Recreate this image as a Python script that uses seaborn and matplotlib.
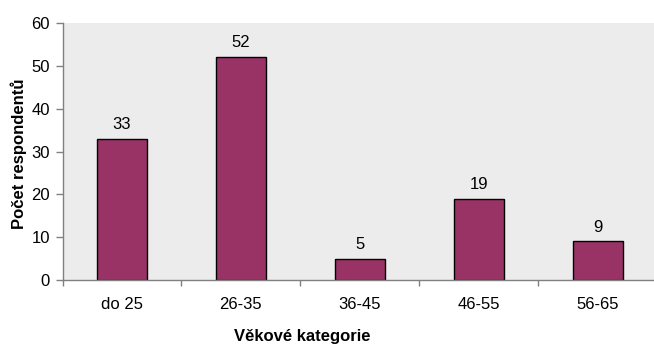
import matplotlib
matplotlib.use("Agg")
import matplotlib.pyplot as plt
from matplotlib.ticker import FixedLocator
import seaborn as sns
import pandas as pd

categories = ["do 25", "26-35", "36-45", "46-55", "56-65"]
counts = [33, 52, 5, 19, 9]
y_ticks = [0, 10, 20, 30, 40, 50, 60]

sns.set_theme(style="white")
plt.rcParams["font.family"] = ["Liberation Sans", "DejaVu Sans"]

df = pd.DataFrame({"kategorie": categories, "pocet": counts})

W, H = 654, 345
left, bottom, right, top = 62.6, 280, 657, 23
fig = plt.figure(figsize=(W / 100, H / 100), dpi=100)
ax = fig.add_axes([left / W, (H - bottom) / H, (right - left) / W, (bottom - top) / H])
ax.set_facecolor("#ECECEC")

sns.barplot(data=df, x="kategorie", y="pocet", color="#993366",
            saturation=1, width=0.42, edgecolor="black", linewidth=1.0, ax=ax)

for i, v in enumerate(counts):
    ax.annotate(str(v), (i, v), xytext=(0, 5), textcoords="offset points",
                ha="center", va="bottom", fontsize=12, color="black")

ax.set_xlim(-0.5, len(categories) - 0.5)
ax.set_ylim(0, 60)
ax.yaxis.set_major_locator(FixedLocator(y_ticks))

for side in ("top", "right"):
    ax.spines[side].set_visible(False)
for side in ("left", "bottom"):
    ax.spines[side].set_color("#808080")
    ax.spines[side].set_linewidth(1.0)

ax.tick_params(axis="y", which="major", direction="out", length=5, width=1,
               color="#808080", pad=4, labelsize=12, left=True, labelcolor="black")
ax.tick_params(axis="x", which="major", length=0, pad=12, labelsize=12,
               labelcolor="black")
ax.xaxis.set_minor_locator(FixedLocator([i + 0.5 for i in range(-1, len(categories))]))
ax.tick_params(axis="x", which="minor", direction="out", length=4, width=1,
               color="#808080", bottom=True)

ax.set_xlabel("Věkové kategorie", fontsize=12, fontweight="bold", color="black")
ax.set_ylabel("Počet respondentů", fontsize=12, fontweight="bold", color="black")
ax.xaxis.set_label_coords((302 - left) / (right - left), -(336 - bottom) / (bottom - top))
ax.yaxis.set_label_coords(-(left - 18.5) / (right - left), (bottom - 154) / (bottom - top))
ax.yaxis.label.set_va("center")
ax.xaxis.label.set_va("center")

fig.savefig("out.png", dpi=100, facecolor="white")
